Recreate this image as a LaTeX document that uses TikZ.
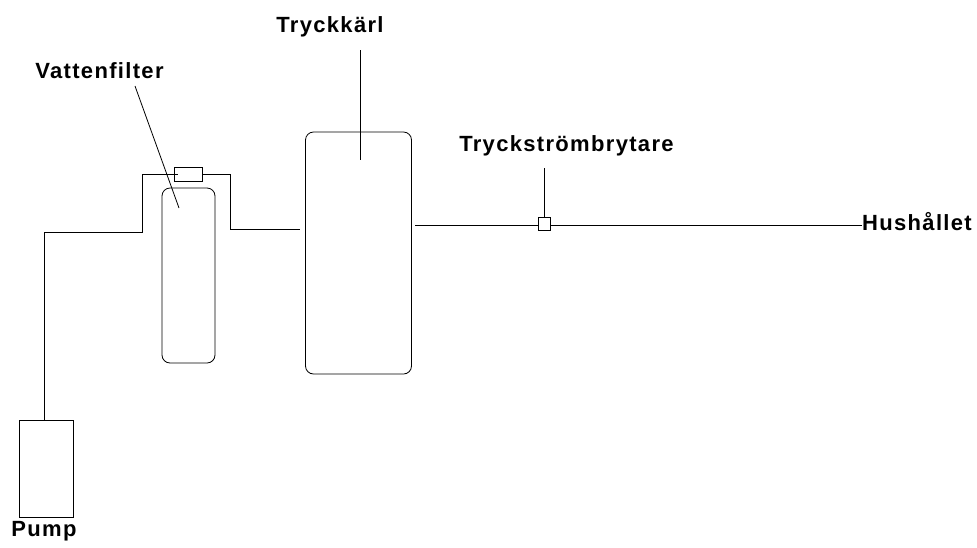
\documentclass[tikz,border=0pt]{standalone}
\usepackage{fontspec}
\setmainfont{Liberation Sans}
\newfontfamily\labelfont[LetterSpace=6]{Liberation Sans}
\begin{document}
\begin{tikzpicture}[x=1pt,y=-1pt,
    tank/.style={rectangle, draw=black, rounded corners=8pt, line width=0.8pt},
    box/.style={rectangle, draw=black, line width=0.8pt},
    label/.style={font=\labelfont\fontsize{22}{24}\selectfont\bfseries, inner sep=0pt},
    pipe/.style={draw=black, line width=0.8pt}
]
\useasboundingbox (0,0) rectangle (977,547);

% Vessels
\node[tank, minimum width=53pt, minimum height=175pt] (filter) at (188.5,275.5) {};
\node[tank, minimum width=106pt, minimum height=242pt] (vessel) at (358.5,253) {};
\node[box, minimum width=54pt, minimum height=97pt] (pump) at (46.5,468.5) {};

% Small parts
\node[box, minimum width=28.5pt, minimum height=14pt] (valve) at (188.5,174) {};
\node[box, minimum width=12pt, minimum height=13pt] (switch) at (544.5,223.5) {};

% Labels
\node[label] (vattenfilter) at (99.5,71) {Vattenfilter};
\node[label] (tryckkarl) at (330,27) {Tryckkärl};
\node[label] (tryckstrom) at (566.5,146) {Tryckströmbrytare};
\node[label, anchor=west] (hushallet) at (862,222) {Hushållet};
\node[label] (pumplabel) at (44,531) {Pump};

% Leader ends
\coordinate (filterstart) at (135,86);
\coordinate (filterend) at (179,208);
\coordinate (vesselstart) at (360,50);
\coordinate (vesselend) at (360,160);
\coordinate (switchstart) at (544.5,168);
\coordinate (pumpbend) at (44,232);
\coordinate (pipea) at (142,232);
\coordinate (pipeb) at (142,174);
\coordinate (pipec) at (230,174);
\coordinate (piped) at (230,229);
\coordinate (valvein) at (178,174);
\coordinate (vesselleft) at (300,229);
\coordinate (vesselright) at (415,225);

% Pipes
\draw[pipe] (pump.north -| pumpbend) -- (pumpbend) -- (pipea) -- (pipeb) -- (valvein);
\draw[pipe] (valve.east) -- (pipec) -- (piped) -- (vesselleft);
\draw[pipe] (vesselright) -- (vesselright -| switch.west);
\draw[pipe] (vesselright -| switch.east) -- (vesselright -| hushallet.west);

% Leaders
\draw[pipe] (filterstart) -- (filterend);
\draw[pipe] (vesselstart) -- (vesselend);
\draw[pipe] (switchstart) -- (switch.north);
\end{tikzpicture}
\end{document}
